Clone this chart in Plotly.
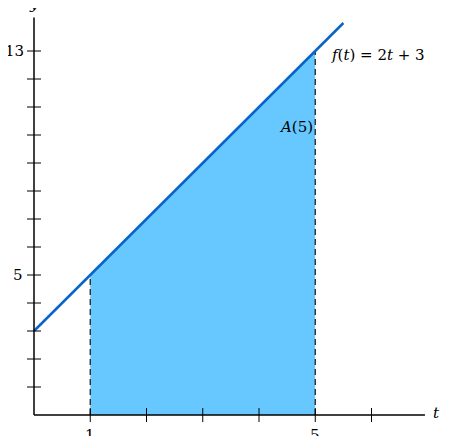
import plotly.graph_objects as go

# data
t_line = [0, 5.5]
f_line = [2 * t + 3 for t in t_line]
a, b = 1, 5
area_t = [a, a, b, b]
area_y = [0, 2 * a + 3, 2 * b + 3, 0]
xticks = [1, 2, 3, 4, 5, 6]
yticks = list(range(1, 14))
xlabels = {1: "1", 5: "5"}
ylabels = {5: "5", 13: "13"}

serif = "DejaVu Serif"
fig = go.Figure()

fig.add_trace(go.Scatter(x=area_t, y=area_y, fill="toself", fillcolor="#66c8ff",
                         line=dict(width=0), mode="lines", hoverinfo="skip"))
for t in (a, b):
    fig.add_trace(go.Scatter(x=[t, t], y=[0, 2 * t + 3], mode="lines",
                             line=dict(color="#222", width=1.3, dash="6px,4px")))
fig.add_trace(go.Scatter(x=t_line, y=f_line, mode="lines",
                         line=dict(color="#0a64c8", width=2.5)))

# axes
fig.add_trace(go.Scatter(x=[0, 6.95], y=[0, 0], mode="lines", line=dict(color="black", width=1.5)))
fig.add_trace(go.Scatter(x=[0, 0], y=[0, 14.2], mode="lines", line=dict(color="black", width=1.5)))
fig.add_trace(go.Scatter(x=xticks, y=[0] * len(xticks), mode="markers",
                         marker=dict(symbol="line-ns", size=10, line=dict(width=1, color="black"))))
fig.add_trace(go.Scatter(x=[0] * len(yticks), y=yticks, mode="markers",
                         marker=dict(symbol="line-ew", size=10, line=dict(width=1, color="black"))))

ann = []
for t, s in xlabels.items():
    ann.append(dict(x=t, y=0, text=s, yshift=-20, showarrow=False))
for v, s in ylabels.items():
    ann.append(dict(x=0, y=v, text=s, xshift=-16 if len(s) < 2 else -20, showarrow=False))
ann.append(dict(x=0, y=14.2, text="<i>y</i>", yshift=13, showarrow=False))
ann.append(dict(x=6.95, y=0, text="<i>t</i>", xshift=12, yshift=2, showarrow=False))
ann.append(dict(x=5.25, y=12.85, text="<i>f</i>(<i>t</i>) = 2<i>t</i> + 3", xanchor="left", showarrow=False))
ann.append(dict(x=4.65, y=10.3, text="<i>A</i>(5)", showarrow=False))
for d in ann:
    d["font"] = dict(family=serif, size=15, color="black")

W, H = 434, 428
ox, oy = 26, 407
fig.update_layout(
    width=W, height=H, margin=dict(l=0, r=0, t=0, b=0),
    plot_bgcolor="white", paper_bgcolor="white", showlegend=False,
    xaxis=dict(range=[-ox / 56.25, (W - ox) / 56.25], visible=False),
    yaxis=dict(range=[-(H - oy) / 28, oy / 28], visible=False),
    annotations=ann,
)
fig.write_html("out.html")
